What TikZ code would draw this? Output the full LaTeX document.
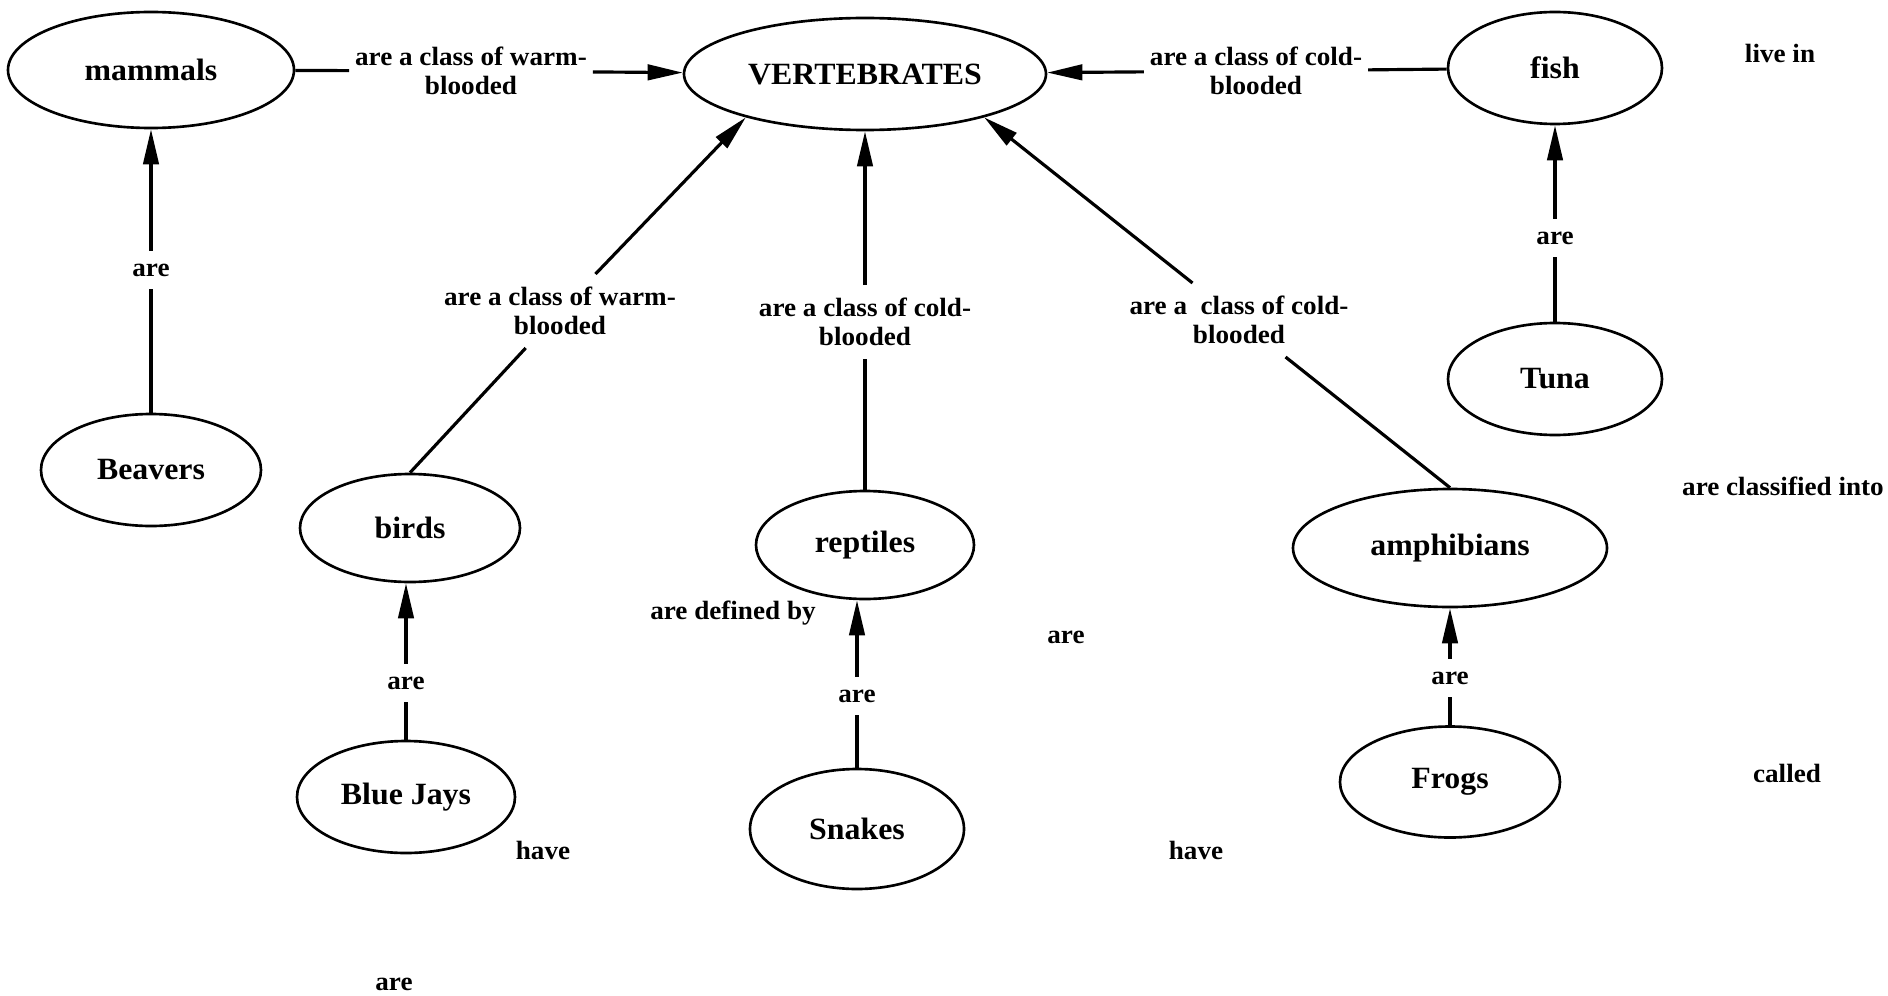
\documentclass[tikz,border=0pt]{standalone}
\usepackage{fontspec}
\setmainfont{Liberation Serif}[FakeStretch=1.03]
\usetikzlibrary{shapes.geometric,arrows.meta}

\begin{document}
\begin{tikzpicture}[
    concept/.style={ellipse, draw, line width=0.75pt, inner sep=0pt,
      font=\fontsize{8.8}{10}\selectfont\bfseries},
    linkword/.style={align=center, inner xsep=1.5pt, inner ysep=3.5pt,
      font=\fontsize{7.5}{8.3}\selectfont\bfseries},
    link/.style={line width=0.9pt},
    arrow/.style={line width=0.9pt, -{Triangle[length=10pt,width=4.4pt]}}
  ]
  \useasboundingbox (0,0) rectangle (18.88,-9.96);

  % concepts
  \node[concept, minimum width=3.62cm, minimum height=1.12cm] (vert) at (8.65,-0.74) {VERTEBRATES};
  \node[concept, minimum width=2.86cm, minimum height=1.16cm] (mammals) at (1.51,-0.70) {mammals};
  \node[concept, minimum width=2.14cm, minimum height=1.12cm] (fish) at (15.55,-0.68) {fish};
  \node[concept, minimum width=2.14cm, minimum height=1.12cm] (tuna) at (15.55,-3.79) {Tuna};
  \node[concept, minimum width=2.20cm, minimum height=1.12cm] (beavers) at (1.51,-4.70) {Beavers};
  \node[concept, minimum width=2.20cm, minimum height=1.08cm] (birds) at (4.10,-5.28) {birds};
  \node[concept, minimum width=2.18cm, minimum height=1.08cm] (reptiles) at (8.65,-5.45) {reptiles};
  \node[concept, minimum width=3.14cm, minimum height=1.18cm] (amphib) at (14.50,-5.48) {amphibians};
  \node[concept, minimum width=2.18cm, minimum height=1.12cm] (jays) at (4.06,-7.97) {Blue Jays};
  \node[concept, minimum width=2.14cm, minimum height=1.20cm] (snakes) at (8.57,-8.29) {Snakes};
  \node[concept, minimum width=2.20cm, minimum height=1.11cm] (frogs) at (14.50,-7.82) {Frogs};

  % linking words on the connectors
  \node[linkword] (warm) at (4.71,-0.71) {are a class of warm-\\blooded};
  \node[linkword] (cold) at (12.56,-0.71) {are a class of cold-\\blooded};
  \node[linkword] (warmb) at (5.60,-3.11) {are a class of warm-\\blooded};
  \node[linkword] (coldr) at (8.65,-3.22) {are a class of cold-\\blooded};
  \node[linkword] (colda) at (12.39,-3.20) {are a\ \ class of cold-\\blooded};
  \node[linkword] (areb) at (1.51,-2.70) {are};
  \node[linkword] (aret) at (15.55,-2.38) {are};
  \node[linkword] (arej) at (4.06,-6.83) {are};
  \node[linkword] (ares) at (8.57,-6.96) {are};
  \node[linkword] (aref) at (14.50,-6.78) {are};

  % linking words left on their own
  \node[linkword] (livein) at (17.80,-0.53) {live in};
  \node[linkword] (classified) at (17.83,-4.86) {are classified into};
  \node[linkword] (defined) at (7.33,-6.13) {are defined by};
  \node[linkword] (are1) at (10.66,-6.37) {are};
  \node[linkword] (called) at (17.87,-7.73) {called};
  \node[linkword] (have1) at (5.43,-8.50) {have};
  \node[linkword] (have2) at (11.96,-8.50) {have};
  \node[linkword] (are2) at (3.94,-9.84) {are};

  % connectors
  \draw[link] (mammals) -- (warm);
  \draw[arrow] (warm) -- (vert);
  \draw[link] (fish) -- (cold);
  \draw[arrow] (cold) -- (vert);
  \draw[link] (birds.north) -- (warmb);
  \draw[arrow] (warmb) -- (vert.-160);
  \draw[link] (reptiles) -- (coldr);
  \draw[arrow] (coldr) -- (vert);
  \draw[link] (amphib.north) -- (colda);
  \draw[arrow] (colda) -- (vert.-20);
  \draw[link] (beavers) -- (areb);
  \draw[arrow] (areb) -- (mammals);
  \draw[link] (tuna) -- (aret);
  \draw[arrow] (aret) -- (fish);
  \draw[link] (jays) -- (arej);
  \draw[arrow] (arej) -- (arej |- birds.south);
  \draw[link] (snakes) -- (ares);
  \draw[arrow] (ares) -- (ares |- reptiles.south);
  \draw[link] (frogs) -- (aref);
  \draw[arrow] (aref) -- (amphib);
\end{tikzpicture}
\end{document}
